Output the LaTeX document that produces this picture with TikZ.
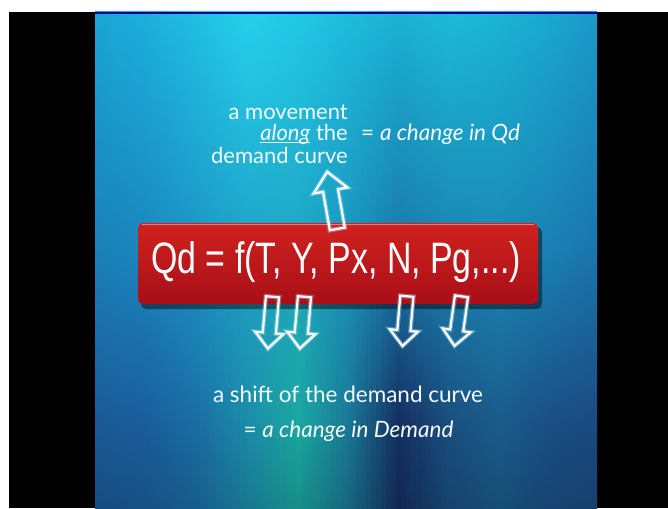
\documentclass[tikz,border=0pt]{standalone}
\usepackage{fontspec}
\setmainfont{Lato}
\newfontfamily\arialfont{Liberation Sans}
\usetikzlibrary{shapes.arrows}
% background key columns (top / middle / bottom)
\definecolor{t0}{HTML}{1AA6D4}\definecolor{m0}{HTML}{1A80B8}\definecolor{b0}{HTML}{1A5A98}
\definecolor{t1}{HTML}{1CB0DC}\definecolor{m1}{HTML}{1A86BE}\definecolor{b1}{HTML}{1A5E9C}
\definecolor{t2}{HTML}{20C0E2}\definecolor{m2}{HTML}{1C95C5}\definecolor{b2}{HTML}{1A6EA4}
\definecolor{t3}{HTML}{26D0EC}\definecolor{m3}{HTML}{1EA3C8}\definecolor{b3}{HTML}{1C8CAA}
\definecolor{t4}{HTML}{22C8E6}\definecolor{m4}{HTML}{1EA6C4}\definecolor{b4}{HTML}{1AA8A0}
\definecolor{t5}{HTML}{1EBCDC}\definecolor{m5}{HTML}{1A94BE}\definecolor{b5}{HTML}{1A7896}
\definecolor{t6}{HTML}{1AB2D4}\definecolor{m6}{HTML}{1A78AC}\definecolor{b6}{HTML}{142F60}
\definecolor{t7}{HTML}{1CBAD8}\definecolor{m7}{HTML}{1A84B2}\definecolor{b7}{HTML}{1A4E80}
\definecolor{t8}{HTML}{1AB4D4}\definecolor{m8}{HTML}{1A88B6}\definecolor{b8}{HTML}{1A5C8A}
\definecolor{t9}{HTML}{1AA8D0}\definecolor{m9}{HTML}{1A80B2}\definecolor{b9}{HTML}{1A4F85}
\definecolor{t10}{HTML}{1A98C8}\definecolor{m10}{HTML}{1A74AC}\definecolor{b10}{HTML}{1A4A80}
\definecolor{boxtop}{HTML}{D0221F}
\definecolor{boxbot}{HTML}{A80F18}
\definecolor{boxhi}{HTML}{F27A78}
\definecolor{textw}{HTML}{F4FBFF}
\definecolor{glow}{HTML}{BFEFFF}
\newcommand\myul[1]{\setbox0\hbox{#1}\rlap{\rule[-2.6pt]{\wd0}{1pt}}\box0\relax}
\tikzset{
  blockarrow/.style n args={3}{single arrow, draw=white, line width=2.2pt, fill=none,
    inner xsep=0pt, inner ysep=#2, text height=0pt, text depth=0pt,
    minimum height=#1, single arrow head extend=#3, single arrow tip angle=84,
    preaction={draw=glow, line width=4.6pt, draw opacity=0.35}},
  label/.style={text=textw, inner sep=0pt, font=\fontsize{22.5}{25}\selectfont},
  toplabel/.style={text=textw, inner sep=0pt, font=\fontsize{22}{24}\selectfont},
}
\begin{document}
\begin{tikzpicture}[x=1pt,y=-1pt]
\useasboundingbox (0,0) rectangle (668,508);
\fill[white] (0,0) rectangle (668,508);
\fill[black] (9,12) rectangle (668,508);
% blue panel
\begin{scope}
\clip (95,12) rectangle (597,508);
\foreach \i in {0,...,9}{
  \pgfmathtruncatemacro\j{\i+1}
  \foreach \k in {0,...,9}{
    \pgfmathtruncatemacro\p{100-10*\k}
    \pgfmathsetmacro\xa{95+50.2*\i+5.02*\k}
    \colorlet{ct}{t\i!\p!t\j}
    \colorlet{cm}{m\i!\p!m\j}
    \colorlet{cb}{b\i!\p!b\j}
    \shade[top color=ct, bottom color=cm] (\xa,12) rectangle ++(5.6,239);
    \shade[top color=cm, bottom color=cb] (\xa,250) rectangle ++(5.6,171);
    \shade[top color=cb, bottom color=cb!85!black] (\xa,420) rectangle ++(5.6,88);
  }
}
\fill[blue!60!black] (95,12) rectangle (597,14);
\end{scope}
% red box
\fill[black, opacity=0.45, rounded corners=5pt] (141,227) rectangle (542,309);
\node (box) [draw=none, top color=boxtop, bottom color=boxbot, rounded corners=5pt,
  minimum width=400pt, minimum height=81pt, inner sep=0pt] at (338,263.5) {};
\draw[boxhi, line width=1.6pt] ([xshift=4pt,yshift=-1.5pt]box.north west) -- ([xshift=-4pt,yshift=-1.5pt]box.north east);
\node (eq) [anchor=base, text=white, inner sep=0pt, font=\arialfont\fontsize{44}{48}\selectfont]
  at (336,273) {\scalebox{0.77}[1]{Qd = f(T, Y, Px, N, Pg,...)}};
% arrows
\node (up) [blockarrow={58pt}{6.5pt}{9.5pt}, rotate=100] at (333,204.5) {};
\node (d1) [blockarrow={52pt}{5.5pt}{7.5pt}, rotate=265] at (270.5,319) {};
\node (d2) [blockarrow={52pt}{5.5pt}{7.5pt}, rotate=265] at (302.5,319) {};
\node (d3) [blockarrow={50pt}{5.5pt}{7.5pt}, rotate=265] at (405,317.5) {};
\node (d4) [blockarrow={50pt}{5.5pt}{7.5pt}, rotate=262] at (458.5,317.5) {};
% top text
\node (mv1) [toplabel, anchor=base east] at (348,119) {a movement};
\node (mv2) [toplabel, anchor=base east] at (348,140.5) {\myul{\textit{along}} the};
\node (mv3) [toplabel, anchor=base east] at (348,163) {demand curve};
\node (qd) [label, anchor=base west] at (361,140.5) {= \textit{a change in Qd}};
% bottom text
\node (sh1) [label, anchor=base] at (348,402) {a shift of the demand curve};
\node (sh2) [label, anchor=base] at (348.5,437) {= \textit{a change in Demand}};
\end{tikzpicture}
\end{document}
